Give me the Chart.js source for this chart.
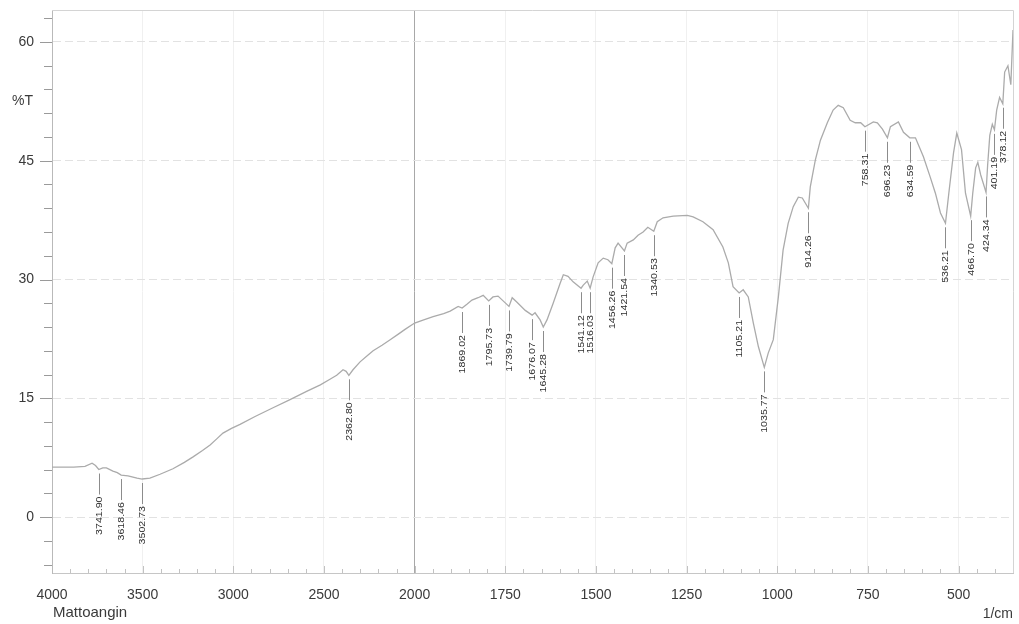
<!DOCTYPE html>
<html>
<head>
<meta charset="utf-8">
<script src="https://cdn.jsdelivr.net/npm/chart.js@4.4.1/dist/chart.umd.min.js"></script>
<style>
  html, body { margin: 0; padding: 0; background: #ffffff; }
  canvas { display: block; }
</style>
</head>
<body>
<canvas id="ir" width="1019" height="624"></canvas>
<script>
// FTIR spectrum of the Mattoangin sample, transmittance against wavenumber.
const wavenumbers = [
  4000, 3940, 3880, 3818, 3779, 3760, 3741.90, 3720, 3700, 3664, 3640, 3618.46,
  3581, 3531, 3502.73, 3460, 3404, 3333, 3270, 3222, 3170, 3128, 3090, 3057,
  3010, 2963, 2880, 2781, 2690, 2593, 2520, 2467, 2430, 2395, 2378, 2362.80,
  2340, 2301, 2260, 2229, 2180, 2135, 2090, 2053, 2000, 1975, 1949, 1920,
  1902, 1880, 1869.02, 1855, 1842, 1825, 1811, 1795.73, 1784, 1770, 1756, 1739.79,
  1731, 1717, 1695, 1676.07, 1668, 1654, 1645.28, 1635, 1618, 1599, 1590, 1577,
  1563, 1541.12, 1535, 1524, 1516.03, 1508, 1494, 1480, 1467, 1456.26, 1447, 1439,
  1421.54, 1414, 1397, 1384, 1370, 1357, 1340.53, 1331, 1315, 1287, 1248, 1232,
  1205, 1177, 1150, 1135, 1122, 1105.21, 1094, 1080, 1066, 1052, 1035.77, 1025,
  1011, 997, 984, 970, 956, 942, 931, 914.26, 909, 895, 881, 862,
  846, 832, 818, 799, 785, 770, 758.31, 735, 724, 710, 696.23, 688,
  666, 652, 634.59, 619, 597, 578, 564, 550, 536.21, 527, 514, 505,
  492, 481, 466.70, 461, 453, 447, 439, 424.34, 420, 414, 407, 401.19,
  395, 387, 378.12, 373, 364, 356, 350
];
const transmittance = [
  6.3, 6.3, 6.3, 6.4, 6.8, 6.5, 6.0, 6.2, 6.2, 5.8, 5.6, 5.3,
  5.2, 4.9, 4.8, 4.9, 5.4, 6.1, 6.9, 7.6, 8.4, 9.1, 9.9, 10.6,
  11.2, 11.7, 12.7, 13.8, 14.8, 15.9, 16.7, 17.4, 17.9, 18.6, 18.4, 17.9,
  18.6, 19.6, 20.4, 21.0, 21.7, 22.4, 23.1, 23.7, 24.5, 24.9, 25.3, 25.7,
  26.0, 26.6, 26.4, 26.9, 27.4, 27.7, 28.0, 27.3, 27.8, 27.9, 27.3, 26.6,
  27.7, 27.1, 26.1, 25.5, 25.8, 24.9, 24.0, 24.9, 27.0, 29.5, 30.6, 30.4,
  29.7, 28.9, 29.3, 29.8, 28.9, 30.3, 32.1, 32.7, 32.5, 32.0, 34.0, 34.6,
  33.6, 34.6, 35.0, 35.6, 36.0, 36.6, 36.1, 37.3, 37.8, 38.0, 38.1, 37.9,
  37.3, 36.3, 34.1, 32.1, 29.1, 28.3, 28.7, 27.8, 24.5, 21.5, 18.9, 20.7,
  22.4, 27.8, 33.7, 37.1, 39.2, 40.4, 40.3, 39.0, 41.7, 45.1, 47.6, 49.8,
  51.4, 52.0, 51.7, 50.1, 49.8, 49.8, 49.3, 49.9, 49.8, 49.0, 47.9, 49.3,
  49.9, 48.6, 47.9, 47.9, 45.5, 42.9, 40.9, 38.4, 37.1, 40.9, 46.0, 48.5,
  46.4, 40.9, 38.0, 40.9, 44.1, 44.8, 43.2, 41.0, 44.4, 48.2, 49.6, 48.9,
  51.4, 53.0, 52.2, 56.2, 57.0, 54.6, 61.5
];
// Marked absorption bands (cm-1)
const peakWavenumbers = [
  3741.90, 3618.46, 3502.73, 2362.80, 1869.02, 1795.73, 1739.79, 1676.07,
  1645.28, 1541.12, 1516.03, 1456.26, 1421.54, 1340.53, 1105.21, 1035.77,
  914.26, 758.31, 696.23, 634.59, 536.21, 466.70, 424.34, 401.19, 378.12
];
const xTickValues = [4000, 3500, 3000, 2500, 2000, 1750, 1500, 1250, 1000, 750, 500];
const yTickValues = [0, 15, 30, 45, 60];
const sampleName = 'Mattoangin';
const xUnitLabel = '1/cm';
const yUnitLabel = '%T';

// Wavenumber axis drawn at double scale below 2000 cm-1.
const AXIS_BREAK = 2000;
class SplitWavenumberScale extends Chart.LinearScale {
  _unitsFromLeft(v) {
    const hi = this.max;
    return v >= AXIS_BREAK ? (hi - v) / 2 : (hi - AXIS_BREAK) / 2 + (AXIS_BREAK - v);
  }
  getPixelForValue(v) {
    return this.getPixelForDecimal(this._unitsFromLeft(v) / this._unitsFromLeft(this.min));
  }
  getValueForPixel(p) {
    const u = this.getDecimalForPixel(p) * this._unitsFromLeft(this.min);
    const hiU = (this.max - AXIS_BREAK) / 2;
    return u <= hiU ? this.max - 2 * u : AXIS_BREAK - (u - hiU);
  }
}
SplitWavenumberScale.id = 'splitWavenumber';
SplitWavenumberScale.defaults = Chart.LinearScale.defaults;
Chart.register(SplitWavenumberScale);

const points = wavenumbers.map((w, i) => ({ x: w, y: transmittance[i] }));

function valueAt(w) {
  const i = wavenumbers.indexOf(w);
  return transmittance[i];
}

const FONT = '"Liberation Sans", Arial, sans-serif';
const TEXT_COLOR = '#3a3a3a';

const decorations = {
  id: 'irDecorations',
  afterDraw(chart) {
    const { ctx, chartArea: a, scales: { x, y } } = chart;
    ctx.save();

    // frame: top and right edges
    ctx.strokeStyle = '#d4d4d4';
    ctx.lineWidth = 1;
    ctx.beginPath();
    ctx.moveTo(a.left, a.top + 0.5);
    ctx.lineTo(a.right + 0.5, a.top + 0.5);
    ctx.lineTo(a.right + 0.5, a.bottom);
    ctx.stroke();

    // y tick marks: major every 15, minor every 3
    ctx.strokeStyle = '#9a9a9a';
    ctx.beginPath();
    for (let v = -6; v <= 63; v += 3) {
      const py = Math.round(y.getPixelForValue(v)) + 0.5;
      const len = v % 15 === 0 ? 12 : 8;
      ctx.moveTo(a.left - len, py);
      ctx.lineTo(a.left, py);
    }
    ctx.stroke();

    // x tick marks, pointing into the plot
    ctx.strokeStyle = '#c2c2c2';
    ctx.beginPath();
    const marks = [];
    for (let w = 3900; w >= 2000; w -= 100) marks.push(w);
    for (let w = 1950; w >= 400; w -= 50) marks.push(w);
    marks.forEach(w => {
      const px = Math.round(x.getPixelForValue(w)) + 0.5;
      const len = xTickValues.includes(w) ? 7 : 4;
      ctx.moveTo(px, a.bottom);
      ctx.lineTo(px, a.bottom - len);
    });
    ctx.stroke();

    // peak annotations
    ctx.font = '8.5px ' + FONT;
    ctx.fillStyle = '#2e2e2e';
    ctx.strokeStyle = '#8c8c8c';
    peakWavenumbers.forEach(w => {
      const px = Math.round(x.getPixelForValue(w)) + 0.5;
      const py = y.getPixelForValue(valueAt(w));
      ctx.beginPath();
      ctx.moveTo(px, py + 4);
      ctx.lineTo(px, py + 25);
      ctx.stroke();
      ctx.save();
      ctx.translate(px, py + 27);
      ctx.rotate(-Math.PI / 2);
      ctx.scale(1.25, 1);
      ctx.textAlign = 'right';
      ctx.textBaseline = 'middle';
      ctx.fillText(w.toFixed(2), 0, 0);
      ctx.restore();
    });

    // axis captions
    ctx.fillStyle = TEXT_COLOR;
    ctx.font = '14px ' + FONT;
    ctx.textBaseline = 'middle';
    ctx.textAlign = 'left';
    ctx.fillText(yUnitLabel, 12, 101);
    ctx.font = '15px ' + FONT;
    ctx.fillText(sampleName, a.left + 1, 613);
    ctx.font = '14px ' + FONT;
    ctx.textAlign = 'right';
    ctx.fillText(xUnitLabel, a.right, 614);
    ctx.restore();
  }
};

new Chart(document.getElementById('ir'), {
  type: 'line',
  data: {
    datasets: [{
      data: points,
      borderColor: '#ababab',
      borderWidth: 1.3,
      pointRadius: 0,
      tension: 0,
      fill: false
    }]
  },
  options: {
    responsive: false,
    animation: false,
    layout: { padding: { top: 10, right: 6, left: 0, bottom: 0 } },
    plugins: { legend: { display: false }, tooltip: { enabled: false } },
    scales: {
      x: {
        type: 'splitWavenumber',
        min: 350,
        max: 4000,
        afterBuildTicks: s => { s.ticks = xTickValues.map(v => ({ value: v })); },
        afterFit: s => { s.height = 51; s.paddingLeft = 0; s.paddingRight = 0; },
        ticks: {
          autoSkip: false,
          maxRotation: 0,
          padding: 14,
          color: TEXT_COLOR,
          font: { family: FONT, size: 14 },
          callback: v => String(v)
        },
        grid: {
          drawTicks: false,
          color: c => (c.tick && c.tick.value === AXIS_BREAK) ? '#a8a8a8' : '#f0f0f0',
          lineWidth: 1
        },
        border: { display: true, color: '#c6c6c6' }
      },
      y: {
        min: -7.07,
        max: 64.04,
        afterBuildTicks: s => { s.ticks = yTickValues.map(v => ({ value: v })); },
        afterFit: s => { s.width = 52; s.paddingTop = 0; s.paddingBottom = 0; },
        ticks: {
          padding: 18,
          color: TEXT_COLOR,
          font: { family: FONT, size: 14 },
          callback: v => String(v)
        },
        grid: { drawTicks: false, color: '#e2e2e2', lineWidth: 1 },
        border: { display: true, color: '#b9b9b9', dash: [8, 4] }
      }
    }
  },
  plugins: [decorations]
});
</script>
</body>
</html>
